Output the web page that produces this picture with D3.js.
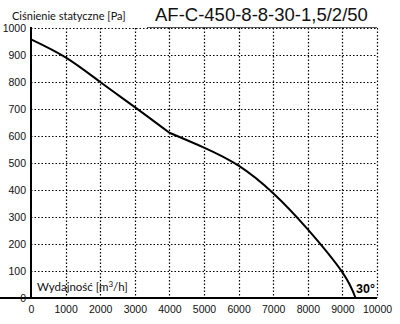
<!DOCTYPE html>
<html><head><meta charset="utf-8">
<script src="https://cdn.jsdelivr.net/npm/d3@7"></script>
<style>body{margin:0;background:#fff}svg{display:block}</style>
</head><body>
<script>
const flow = [0, 1000, 2000, 3000, 4000, 5000, 6000, 7000, 8000, 9000, 9380];
const pressure = [958, 891, 800, 707, 612, 557, 490, 388, 254, 95, 0];
const xTicks = [0,1000,2000,3000,4000,5000,6000,7000,8000,9000,10000];
const yTicks = [0,100,200,300,400,500,600,700,800,900,1000];
const title = "AF-C-450-8-8-30-1,5/2/50";
const yLabel = "Ciśnienie statyczne [Pa]";
const angleLabel = "30°";

const W=400,H=324;
const svg=d3.select("body").append("svg").attr("width",W).attr("height",H);
const x=d3.scaleLinear().domain([0,10000]).range([31,377]);
const y=d3.scaleLinear().domain([0,1000]).range([298,28]);
const px=v=>Math.round(v)+0.5;

// grid
const gv=svg.append("g").attr("class","gridv");
xTicks.slice(1).forEach(d=>{
  gv.append("line").attr("x1",px(x(d))).attr("x2",px(x(d))).attr("y1",y(1000)).attr("y2",y(0))
    .style("stroke","#000").style("stroke-width","1.2px").style("stroke-dasharray","1.5 2");
});
const gh=svg.append("g").attr("class","gridh");
yTicks.slice(1).forEach(d=>{
  gh.append("line").attr("x1",x(0)).attr("x2",x(10000)).attr("y1",px(y(d))).attr("y2",px(y(d)))
    .style("stroke","#000").style("stroke-width","1.2px").style("stroke-dasharray","1.5 2");
});

// title underline
svg.append("line").attr("x1",147).attr("x2",x(10000)).attr("y1",27.5).attr("y2",27.5)
  .style("stroke","#555").style("stroke-width","1px");

// axes
const xa=svg.append("g").attr("transform",`translate(0,${y(0)})`)
  .call(d3.axisBottom(x).tickValues(xTicks).tickSize(0).tickPadding(8).tickFormat(d3.format("d")));
const ya=svg.append("g").attr("transform",`translate(${x(0)},0)`)
  .call(d3.axisLeft(y).tickValues(yTicks).tickSize(0).tickPadding(5).tickFormat(d3.format("d")));
[xa,ya].forEach(a=>{a.select(".domain").attr("stroke","#000").attr("stroke-width",2);
  a.selectAll("text").attr("font-family","Liberation Sans, Arial, sans-serif").attr("font-size",10.5).attr("fill","#111");});
ya.select(".domain").attr("d",`M0,${y(1000)-1}V${y(0)+1}`);
xa.select(".domain").attr("d",`M0,0H${x(10000)}`);
ya.selectAll("text").attr("dy","0.35em");

// curve: two smooth spline pieces joined at the bend near 4000 m3/h
const pts = flow.map((f,i)=>[f,pressure[i]]);
const bend = flow.indexOf(4000);
const lineGen = d3.line().x(d=>x(d[0])).y(d=>y(d[1])).curve(d3.curveNatural);
const d1 = lineGen(pts.slice(0,bend+1));
const d2 = lineGen(pts.slice(bend));
svg.append("path").attr("d", d1 + d2.replace(/^M[^C L]*/, m=>"L"+m.slice(1)))
  .attr("fill","none").attr("stroke","#000").attr("stroke-width",2).attr("stroke-linejoin","round");

// texts
svg.append("text").attr("x",12).attr("y",19.5).text(yLabel)
  .attr("font-family","Lato, Open Sans, sans-serif").attr("font-size",11).attr("fill","#111");
svg.append("text").attr("x",155).attr("y",21).text(title)
  .attr("font-family","Liberation Sans, Arial, sans-serif").attr("font-size",18.5).attr("fill","#111");
const wl=svg.append("text").attr("x",37).attr("y",291)
  .attr("font-family","Lato, Open Sans, sans-serif").attr("font-size",11.5).attr("fill","#111");
wl.append("tspan").text("Wydajność [m");
wl.append("tspan").text("3").attr("font-size",8).attr("dy",-4);
wl.append("tspan").text("/h]").attr("dy",4);
svg.append("text").attr("x",356).attr("y",293).text(angleLabel)
  .attr("font-family","Liberation Sans, Arial, sans-serif").attr("font-size",12.5).attr("font-weight","bold").attr("fill","#000");
</script>
</body></html>
